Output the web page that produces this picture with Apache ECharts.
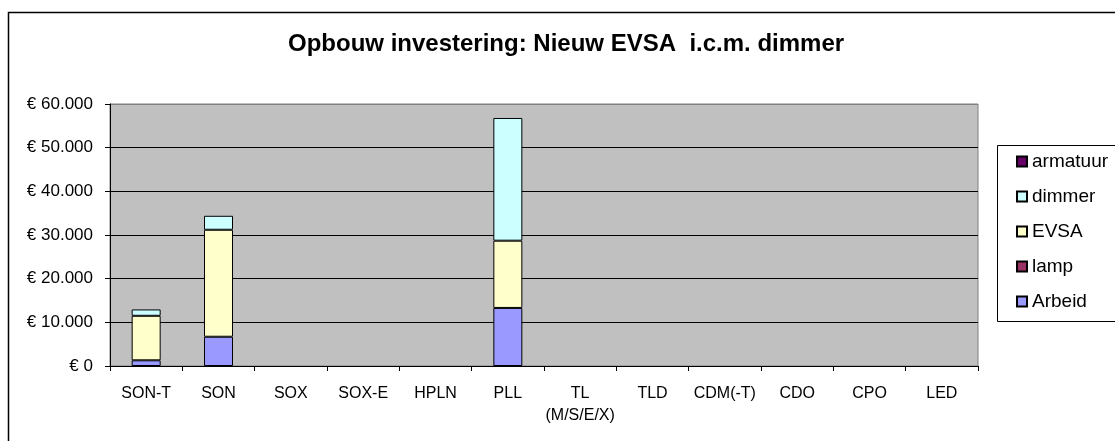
<!DOCTYPE html>
<html>
<head>
<meta charset="utf-8">
<script src="https://cdn.jsdelivr.net/npm/echarts@6/dist/echarts.min.js"></script>
<style>
html, body { margin: 0; padding: 0; background: #fff; }
#main { width: 1115px; height: 441px; }
</style>
</head>
<body>
<div id="main"></div>
<script>
var categories = ['SON-T', 'SON', 'SOX', 'SOX-E', 'HPLN', 'PLL', 'TL\n(M/S/E/X)',
		'TLD', 'CDM(-T)', 'CDO', 'CPO', 'LED'];
var arbeid   = [1300, 6700, 0, 0, 0, 13300, 0, 0, 0, 0, 0, 0];
var lamp     = [0, 0, 0, 0, 0, 0, 0, 0, 0, 0, 0, 0];
var evsa     = [10200, 24500, 0, 0, 0, 15400, 0, 0, 0, 0, 0, 0];
var dimmer   = [1450, 3200, 0, 0, 0, 28100, 0, 0, 0, 0, 0, 0];
var armatuur = [0, 0, 0, 0, 0, 0, 0, 0, 0, 0, 0, 0];

var font = 'Arial, "Liberation Sans", sans-serif';

function euro(v) {
	return '€ ' + String(v).replace(/\B(?=(\d{3})+(?!\d))/g, '.');
}

// lege segmenten niet tekenen, anders krijg je streepjes op de as
function serie(naam, data, kleur) {
	return {
		name: naam,
		type: 'bar',
		stack: 'totaal',
		data: data.map(function (v) { return v === 0 ? null : v; }),
		barWidth: 29,
		itemStyle: {
			color: kleur,
			borderColor: '#000',
			borderWidth: 1
		}
	};
}

var grafiek = {
	animation: false,
	backgroundColor: '#fff',
	textStyle: { fontFamily: font },
	title: {
		text: 'Opbouw investering: Nieuw EVSA  i.c.m. dimmer',
		left: 288,
		top: 32,
		padding: 0,
		textStyle: { fontSize: 24, fontWeight: 'bold', color: '#000', fontFamily: font }
	},
	legend: {
		orient: 'vertical',
		left: 1016,
		top: 152,
		padding: 0,
		itemWidth: 10,
		itemHeight: 10,
		itemGap: 16,
		icon: 'rect',
		data: ['armatuur', 'dimmer', 'EVSA', 'lamp', 'Arbeid'],
		textStyle: { fontSize: 19, color: '#000', fontFamily: font }
	},
	graphic: [
		{
			type: 'rect',
			shape: { x: 8.5, y: 12.5, width: 1130, height: 460 },
			style: { fill: null, stroke: '#000', lineWidth: 1.5 },
			silent: true
		},
		{
			type: 'rect',
			shape: { x: 997.5, y: 145.5, width: 118, height: 176 },
			style: { fill: null, stroke: '#000', lineWidth: 1 },
			silent: true
		}
	],
	grid: {
		left: 110,
		top: 104,
		width: 868,
		height: 262,
		show: true,
		backgroundColor: '#C0C0C0',
		borderColor: '#808080',
		borderWidth: 1
	},
	xAxis: {
		type: 'category',
		data: categories,
		axisLine: { lineStyle: { color: '#000', width: 1 } },
		axisTick: { show: true, alignWithLabel: false, length: 5, lineStyle: { color: '#000' } },
		axisLabel: {
			interval: 0,
			margin: 17,
			color: '#000',
			fontSize: 16,
			lineHeight: 22,
			fontFamily: font
		},
		splitLine: { show: false }
	},
	yAxis: {
		type: 'value',
		min: 0,
		max: 60000,
		interval: 10000,
		axisLine: { show: true, lineStyle: { color: '#000', width: 1 } },
		axisTick: { show: true, length: 5, lineStyle: { color: '#000' } },
		axisLabel: {
			margin: 17,
			color: '#000',
			fontSize: 17,
			fontFamily: font,
			formatter: euro
		},
		splitLine: {
			show: true,
			lineStyle: { color: ['#000', '#000', '#000', '#000', '#000', '#000', '#808080'], width: 1 }
		}
	},
	series: [
		serie('Arbeid', arbeid, '#9999FF'),
		serie('lamp', lamp, '#993366'),
		serie('EVSA', evsa, '#FFFFCC'),
		serie('dimmer', dimmer, '#CCFFFF'),
		serie('armatuur', armatuur, '#660066')
	]
};

var myChart = echarts.init(document.getElementById('main'));
myChart.setOption(grafiek);
</script>
</body>
</html>
